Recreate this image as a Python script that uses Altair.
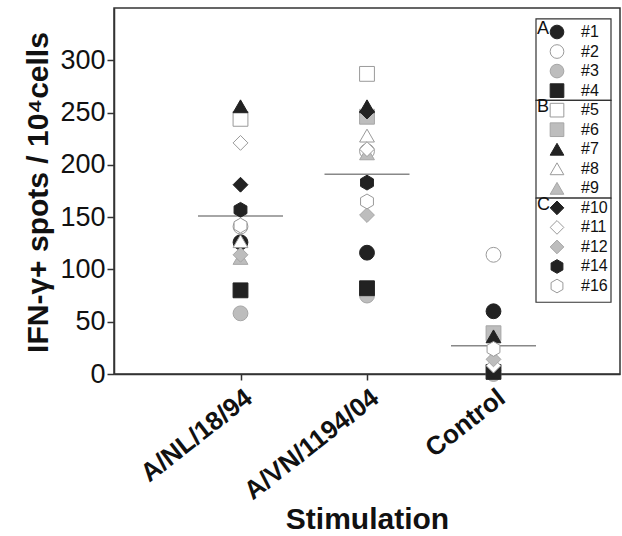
import altair as alt
import pandas as pd

# ---------------- data ----------------
stimulations = ["A/NL/18/94", "A/VN/1194/04", "Control"]
subjects = ["#1", "#2", "#3", "#4", "#5", "#6", "#7", "#8", "#9",
            "#10", "#11", "#12", "#14", "#16"]
groups = ["A", "A", "A", "A", "B", "B", "B", "B", "B", "C", "C", "C", "C", "C"]
nl_values = [126, 141, 58, 80, 244, None, 256, 127, 111, 181, 221, 114, 157, 142]
vn_values = [116, 213, 75, 82, 287, 246, 256, 228, 211, 251, 215, 152, 183, 165]
ctrl_values = [60, 114, 0, 2, None, 39, 36, None, None, 3, 8, 14, None, 24]
mean_values = [151, 191, 27]
y_ticks = [0, 50, 100, 150, 200, 250, 300]

# ---------------- marker styles ----------------
HEX = "M0,-1L0.866,-0.5L0.866,0.5L0,1L-0.866,0.5L-0.866,-0.5Z"
BLACK, GRAY, WHITE = "#222222", "#bdbdbd", "#ffffff"
GRAY_EDGE, OPEN_EDGE = "#a6a6a6", "#9a9a9a"
marker_shapes = ["circle"] * 3 + ["square"] * 3 + ["triangle-up"] * 3 + ["diamond"] * 3 + [HEX] * 2
marker_fills = [BLACK, WHITE, GRAY] * 4 + [BLACK, WHITE]
marker_strokes = [BLACK, OPEN_EDGE, GRAY_EDGE] * 4 + [BLACK, OPEN_EDGE]
marker_sizes = [220] * 3 + [150] * 3 + [190] * 3 + [200] * 3 + [190] * 2

rows = []
for stim, vals in zip(stimulations, [nl_values, vn_values, ctrl_values]):
    for s, v in zip(subjects, vals):
        if v is not None:
            rows.append({"stim": stim, "subject": s, "value": v})
df = pd.DataFrame(rows)
mean_df = pd.DataFrame({"stim": stimulations, "mean": mean_values})

FONT = "Liberation Sans"
W, H = 506, 366

shape_enc = alt.Shape("subject:N", scale=alt.Scale(domain=subjects, range=marker_shapes), legend=None)
fill_enc = alt.Fill("subject:N", scale=alt.Scale(domain=subjects, range=marker_fills), legend=None)
stroke_enc = alt.Stroke("subject:N", scale=alt.Scale(domain=subjects, range=marker_strokes), legend=None)
size_enc = alt.Size("subject:N", scale=alt.Scale(domain=subjects, range=marker_sizes), legend=None)

x_enc = alt.X("stim:N",
              scale=alt.Scale(type="point", padding=1, domain=stimulations),
              axis=alt.Axis(title="Stimulation", labelAngle=322, labelAlign="right",
                            labelBaseline="top", labelFont=FONT, labelFontSize=26,
                            labelFontWeight="bold", labelColor="#111", labelPadding=4,
                            tickSize=6, tickColor="#333", tickWidth=1.5,
                            domainColor="#333", domainWidth=1.5,
                            titleFont=FONT, titleFontSize=30, titleFontWeight="bold",
                            titleColor="#111", titleY=154, titleBaseline="alphabetic"))
y_scale = alt.Scale(domain=[0, 350], nice=False)

points = alt.Chart(df).mark_point(filled=True, opacity=1, strokeWidth=1).encode(
    x=x_enc,
    y=alt.Y("value:Q", scale=y_scale,
            axis=alt.Axis(values=y_ticks, grid=False, title="IFN-γ+ spots / 10⁴cells",
                          labelFont=FONT, labelFontSize=27, labelColor="#111",
                          labelPadding=2, tickSize=7, tickColor="#333", tickWidth=1.5,
                          domainColor="#333", domainWidth=1.5,
                          titleFont=FONT, titleFontSize=30, titleFontWeight="bold",
                          titleColor="#111", titleAngle=270, titleX=-67, titleY=184,
                          titleAlign="center", titleBaseline="alphabetic")),
    shape=shape_enc, fill=fill_enc, stroke=stroke_enc, size=size_enc,
)

mean_ticks = alt.Chart(mean_df).mark_tick(size=85, thickness=1.5, color="#555").encode(
    x=alt.X("stim:N", scale=alt.Scale(type="point", padding=1, domain=stimulations)),
    y=alt.Y("mean:Q", scale=y_scale),
)

main = alt.layer(mean_ticks, points)

# ---------------- custom grouped legend ----------------
ROW_TOP, ROW_STEP = 24, 19.54
leg_scale = alt.Scale(domain=[-ROW_TOP / ROW_STEP, -ROW_TOP / ROW_STEP + H / ROW_STEP],
                      reverse=True, nice=False, zero=False)
leg_df = pd.DataFrame({"subject": subjects, "row": list(range(len(subjects))), "group": groups})
group_names = ["A", "B", "C"]
box_df = pd.DataFrame({"group": group_names,
                       "top": [-0.67, 3.5, 8.5],
                       "bottom": [3.5, 8.5, 13.83],
                       "first": [0, 4, 9]})

boxes = alt.Chart(box_df).mark_rect(fill="white", stroke="#333", strokeWidth=1.2).encode(
    x=alt.value(422), x2=alt.value(497),
    y=alt.Y("top:Q", scale=leg_scale, axis=None), y2="bottom:Q")
syms = alt.Chart(leg_df).mark_point(filled=True, opacity=1, strokeWidth=1).encode(
    x=alt.value(443), y=alt.Y("row:Q", scale=leg_scale, axis=None),
    shape=shape_enc, fill=fill_enc, stroke=stroke_enc,
    size=alt.Size("subject:N", scale=alt.Scale(domain=subjects, range=[s * 0.85 for s in marker_sizes]), legend=None))
labels = alt.Chart(leg_df).mark_text(align="left", baseline="middle", font=FONT,
                                      fontSize=16, color="#111").encode(
    x=alt.value(467), y=alt.Y("row:Q", scale=leg_scale, axis=None), text="subject:N")
letters = alt.Chart(box_df).mark_text(align="left", baseline="middle", font=FONT,
                                       fontSize=18, color="#111", dy=-3).encode(
    x=alt.value(423), y=alt.Y("first:Q", scale=leg_scale, axis=None), text="group:N")

legend = alt.layer(boxes, syms, labels, letters)

chart = alt.layer(main, legend).resolve_scale(y="independent", size="independent").properties(
    width=W, height=H,
    autosize=alt.AutoSizeParams(type="none"),
    padding={"left": 114, "top": 8, "right": 2, "bottom": 162},
    background="white",
).configure_view(stroke="#333", strokeWidth=1.5)

chart.save("out.html", embed_options={"renderer": "svg", "actions": False})
